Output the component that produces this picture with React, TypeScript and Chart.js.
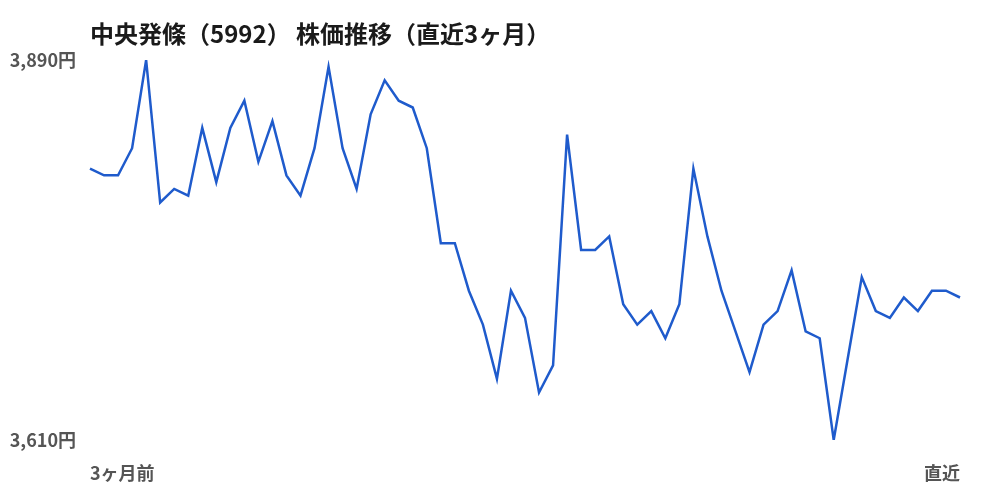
import React, { useEffect, useRef } from "react";
import { Chart, registerables } from "chart.js";

Chart.register(...registerables);

const TITLE = "中央発條（5992） 株価推移（直近3ヶ月）";
const X_FIRST_LABEL = "3ヶ月前";
const X_LAST_LABEL = "直近";
const PRICES: number[] = [
  3810, 3805, 3805, 3825, 3890, 3785, 3795, 3790, 3840, 3800,
  3840, 3860, 3815, 3845, 3805, 3790, 3825, 3885, 3825, 3795,
  3850, 3875, 3860, 3855, 3825, 3755, 3755, 3720, 3695, 3655,
  3720, 3700, 3645, 3665, 3835, 3750, 3750, 3760, 3710, 3695,
  3705, 3685, 3710, 3810, 3760, 3720, 3690, 3660, 3695, 3705,
  3735, 3690, 3685, 3610, 3670, 3730, 3705, 3700, 3715, 3705,
  3720, 3720, 3715,
];
const Y_MIN = 3610;
const Y_MAX = 3890;
const LABELS: string[] = PRICES.map((_, i) =>
  i === 0 ? X_FIRST_LABEL : i === PRICES.length - 1 ? X_LAST_LABEL : ""
);

const FONT = "'Noto Sans CJK JP', 'Noto Sans', sans-serif";

const titlePlugin = {
  id: "customTitle",
  afterDraw(chart: any) {
    const { ctx, chartArea } = chart;
    ctx.save();
    ctx.font = `bold 24px ${FONT}`;
    ctx.fillStyle = "#1a1a1a";
    ctx.textAlign = "left";
    ctx.textBaseline = "middle";
    ctx.fillText(TITLE, chartArea.left, 34);
    ctx.restore();
  },
};

export default function App() {
  const canvasRef = useRef<HTMLCanvasElement | null>(null);

  useEffect(() => {
    document.body.style.margin = "0";
    if (!canvasRef.current) return;
    const chart = new Chart(canvasRef.current, {
      type: "line",
      data: {
        labels: LABELS,
        datasets: [
          {
            data: PRICES,
            borderColor: "#1f5bcc",
            borderWidth: 2.5,
            pointRadius: 0,
            tension: 0,
            fill: false,
          },
        ],
      },
      plugins: [titlePlugin],
      options: {
        animation: false,
        responsive: true,
        maintainAspectRatio: false,
        layout: { padding: { top: 60, right: 40, bottom: 0, left: 0 } },
        plugins: {
          legend: { display: false },
          title: { display: false },
          tooltip: { enabled: false },
        },
        scales: {
          x: {
            offset: false,
            grid: { display: false, drawTicks: false },
            border: { display: false },
            afterBuildTicks(scale: any) {
              scale.ticks = [{ value: 0 }, { value: PRICES.length - 1 }];
            },
            afterFit(scale: any) {
              scale.height = 60;
            },
            ticks: {
              autoSkip: false,
              maxRotation: 0,
              align: "inner",
              padding: 22,
              color: "#555555",
              font: { family: FONT, size: 18, weight: "bold" },
              callback(value: any) {
                return LABELS[value as number];
              },
            },
          },
          y: {
            min: Y_MIN,
            max: Y_MAX,
            grid: { display: false, drawTicks: false },
            border: { display: false },
            afterBuildTicks(scale: any) {
              scale.ticks = [{ value: Y_MIN }, { value: Y_MAX }];
            },
            afterFit(scale: any) {
              scale.width = 90;
            },
            ticks: {
              padding: 14,
              color: "#555555",
              font: { family: FONT, size: 18, weight: "bold" },
              callback(value: any) {
                return Number(value).toLocaleString("en-US") + "円";
              },
            },
          },
        },
      },
    });
    return () => chart.destroy();
  }, []);

  return (
    <div style={{ position: "relative", width: 1000, height: 500 }}>
      <canvas ref={canvasRef} />
    </div>
  );
}
